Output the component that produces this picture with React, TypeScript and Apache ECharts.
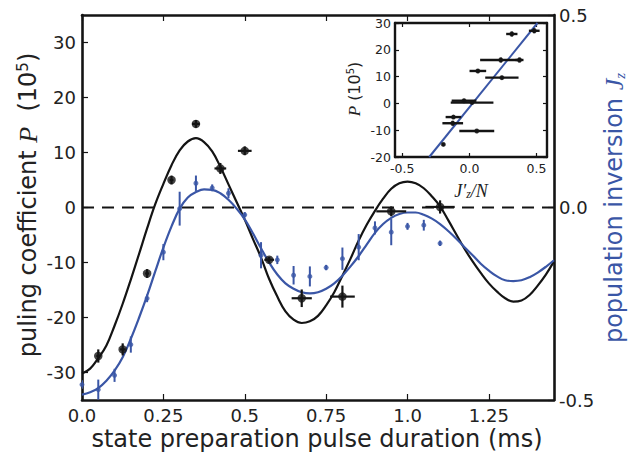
import React, { useEffect, useRef } from "react";
import * as echarts from "echarts";

// ---------- data ----------
// main axis ticks
const xTicks = [0, 0.25, 0.5, 0.75, 1.0, 1.25];
const pTicks = [-30, -20, -10, 0, 10, 20, 30];
const jzTicks = [-0.5, 0, 0.5];
const insetXTicks = [-0.5, 0, 0.5];
const insetYTicks = [-20, -10, 0, 10, 20, 30];

// black points: pulling coefficient P (left axis)
const tBlack = [0.05, 0.125, 0.2, 0.275, 0.35, 0.425, 0.5, 0.575, 0.675, 0.8, 0.95, 1.1];
const pBlack = [-27, -25.8, -12, 5, 15.2, 7.1, 10.3, -9.5, -16.5, -16.2, -0.7, 0.1];
const tBlackErr = [0.006, 0.008, 0.006, 0.006, 0.012, 0.018, 0.021, 0.015, 0.031, 0.038, 0.046, 0.045];
const pBlackErr = [1.2, 1.1, 0.8, 0.8, 0.7, 1.0, 0.8, 0.5, 1.6, 2.0, 0.9, 1.2];

// blue points: population inversion Jz (right axis)
const tBlue = [0, 0.05, 0.1, 0.15, 0.2, 0.25, 0.3, 0.35, 0.4, 0.45, 0.5, 0.55, 0.6, 0.65, 0.7, 0.75, 0.8, 0.85, 0.9, 0.95, 1.0, 1.05, 1.1];
const jzBlue = [-0.46, -0.473, -0.436, -0.356, -0.236, -0.116, -0.003, 0.063, 0.051, 0.037, -0.019, -0.124, -0.136, -0.176, -0.179, -0.156, -0.133, -0.103, -0.053, -0.064, -0.049, -0.046, -0.093];
const jzBlueErr = [0.011, 0.026, 0.017, 0.021, 0.01, 0.021, 0.044, 0.02, 0.009, 0.013, 0.007, 0.034, 0.011, 0.024, 0.026, 0.007, 0.029, 0.034, 0.017, 0.034, 0.009, 0.014, 0.007];

// fitted curves (every 0.025 ms)
const tFit = [
  0, 0.025, 0.05, 0.075, 0.1, 0.125, 0.15, 0.175, 0.2, 0.225, 0.25, 0.275, 0.3, 0.325, 0.35, 0.375, 0.4, 0.425, 0.45, 0.475,
  0.5, 0.525, 0.55, 0.575, 0.6, 0.625, 0.65, 0.675, 0.7, 0.725, 0.75, 0.775, 0.8, 0.825, 0.85, 0.875, 0.9, 0.925, 0.95, 0.975,
  1.0, 1.025, 1.05, 1.075, 1.1, 1.125, 1.15, 1.175, 1.2, 1.225, 1.25, 1.275, 1.3, 1.325, 1.35, 1.375, 1.4, 1.425, 1.45,
];
const pFitBlack = [
  -30.2, -29.3, -27.4, -25.1, -21.5, -17.5, -13.1, -8.5, -3.8, 0.6, 4.3, 7.7, 10.4, 12.0, 12.6, 11.9, 10.2, 7.4, 4.2, 1.0,
  -2.2, -5.7, -9.1, -13.0, -16.2, -18.9, -20.4, -21.0, -20.7, -19.7, -17.8, -15.4, -12.4, -9.3, -6.0, -3.1, -0.6, 1.6, 3.4, 4.4,
  4.7, 4.4, 3.5, 2.0, 0.2, -2.3, -4.9, -7.5, -9.8, -11.9, -13.8, -15.3, -16.5, -17.1, -16.9, -15.9, -14.2, -12.2, -9.8,
];
const jzFitBlue = [
  -0.486, -0.48, -0.469, -0.45, -0.424, -0.389, -0.341, -0.287, -0.229, -0.166, -0.104, -0.049, -0.003, 0.026, 0.04, 0.047, 0.046, 0.037, 0.02, -0.003,
  -0.031, -0.067, -0.106, -0.143, -0.174, -0.197, -0.211, -0.22, -0.223, -0.22, -0.211, -0.197, -0.177, -0.153, -0.126, -0.096, -0.066, -0.043, -0.027, -0.017,
  -0.013, -0.013, -0.019, -0.029, -0.043, -0.061, -0.081, -0.103, -0.124, -0.146, -0.164, -0.179, -0.189, -0.191, -0.189, -0.181, -0.169, -0.154, -0.137,
];

// inset: P vs J'z/N
const insetJ = [0.316, 0.483, 0.234, 0.373, 0.063, 0.242, -0.04, 0.02, -0.119, -0.124, 0.055, -0.194];
const insetP = [25.9, 27.1, 16.2, 16.2, 12.1, 9.6, 1.0, 0.3, -5.1, -7.4, -10.3, -15.3];
const insetJErr = [0.042, 0.04, 0.154, 0.03, 0.062, 0.124, 0.092, 0.159, 0.058, 0.077, 0.13, 0.01];
const insetPErr = [0.9, 0.9, 0.9, 0.9, 0.7, 0.7, 0.7, 0.5, 0.7, 0.9, 0.6, 0.6];
const insetFitJ = [-0.299, 0.507];
const insetFitP = [-20, 30];

const zeroLineT = [0, 1.45];
const zeroLineP = [0, 0];

// ---------- styles ----------
const BLACK = "#141414";
const BLUE = "#3a56a6";
const TXT = "#222";
const SANS = '"DejaVu Sans", sans-serif';
const SERIF = '"Liberation Serif", "DejaVu Serif", serif';

const fmtX = (v: number) => (Number.isInteger(v * 2) ? v.toFixed(1) : String(v));

function errRender(color: string, lw: number) {
  return (params: any, api: any) => {
    const x = api.value(0);
    const y = api.value(1);
    const ex = api.value(2);
    const ey = api.value(3);
    const children: any[] = [];
    if (ex > 0) {
      const l = api.coord([x - ex, y]);
      const r = api.coord([x + ex, y]);
      children.push({ type: "line", shape: { x1: l[0], y1: l[1], x2: r[0], y2: r[1] }, style: { stroke: color, lineWidth: lw } });
    }
    if (ey > 0) {
      const b = api.coord([x, y - ey]);
      const t = api.coord([x, y + ey]);
      children.push({ type: "line", shape: { x1: b[0], y1: b[1], x2: t[0], y2: t[1] }, style: { stroke: color, lineWidth: lw } });
    }
    return { type: "group", children };
  };
}

function valueAxis(opts: any) {
  const { ticks, showLabel, fontSize, margin, tickLen, lineWidth, formatter, ...rest } = opts;
  return {
    type: "value",
    ...rest,
    axisLine: { show: true, onZero: false, lineStyle: { color: BLACK, width: lineWidth } },
    axisTick: { show: true, inside: true, length: tickLen, customValues: ticks, lineStyle: { color: BLACK, width: 1.2 } },
    axisLabel: {
      show: showLabel,
      customValues: ticks,
      formatter,
      fontSize,
      fontFamily: SANS,
      color: TXT,
      margin,
    },
    splitLine: { show: false },
  };
}

export default function App() {
  const ref = useRef<HTMLDivElement>(null);

  useEffect(() => {
    if (!ref.current) return;
    const chart = echarts.init(ref.current, undefined, { renderer: "svg" });

    const blackPts = tBlack.map((t, i) => [t, pBlack[i]]);
    const blackErr = tBlack.map((t, i) => [t, pBlack[i], tBlackErr[i], pBlackErr[i]]);
    const bluePts = tBlue.map((t, i) => [t, jzBlue[i]]);
    const blueErr = tBlue.map((t, i) => [t, jzBlue[i], 0, jzBlueErr[i]]);
    const fitBlack = tFit.map((t, i) => [t, pFitBlack[i]]);
    const fitBlue = tFit.map((t, i) => [t, jzFitBlue[i]]);
    const insetPts = insetJ.map((j, i) => [j, insetP[i]]);
    const insetErr = insetJ.map((j, i) => [j, insetP[i], insetJErr[i], insetPErr[i]]);
    const insetFit = insetFitJ.map((j, i) => [j, insetFitP[i]]);
    const zero = zeroLineT.map((t, i) => [t, zeroLineP[i]]);

    const option: any = {
      animation: false,
      grid: [
        { left: 82, top: 15, right: 82, bottom: 53 },
        { left: 395, top: 23, right: 89, bottom: 296, show: true, backgroundColor: "#fff", borderWidth: 0 },
      ],
      xAxis: [
        valueAxis({ gridIndex: 0, min: 0, max: 1.45, position: "bottom", ticks: xTicks, showLabel: true, fontSize: 18, margin: 6, tickLen: 6, lineWidth: 2.6, formatter: fmtX }),
        valueAxis({ gridIndex: 0, min: 0, max: 1.45, position: "top", ticks: xTicks, showLabel: false, fontSize: 18, margin: 6, tickLen: 6, lineWidth: 2.6 }),
        valueAxis({ gridIndex: 1, min: -0.554, max: 0.578, position: "bottom", ticks: insetXTicks, showLabel: true, fontSize: 12.5, margin: 5, tickLen: 4, lineWidth: 2.4, formatter: (v: number) => v.toFixed(1) }),
        valueAxis({ gridIndex: 1, min: -0.554, max: 0.578, position: "top", ticks: insetXTicks, showLabel: false, fontSize: 12, margin: 5, tickLen: 4, lineWidth: 2.4 }),
      ],
      yAxis: [
        valueAxis({ gridIndex: 0, min: -35, max: 35, position: "left", ticks: pTicks, showLabel: true, fontSize: 18, margin: 6, tickLen: 6, lineWidth: 2.6, formatter: (v: number) => String(v) }),
        valueAxis({ gridIndex: 0, min: -0.5, max: 0.5, position: "right", ticks: jzTicks, showLabel: true, fontSize: 18, margin: 5, tickLen: 6, lineWidth: 2.6, formatter: (v: number) => v.toFixed(1) }),
        valueAxis({ gridIndex: 1, min: -20, max: 30, position: "left", ticks: insetYTicks, showLabel: true, fontSize: 12.5, margin: 4, tickLen: 4, lineWidth: 2.4, formatter: (v: number) => String(v) }),
        valueAxis({ gridIndex: 1, min: -20, max: 30, position: "right", ticks: insetYTicks, showLabel: false, fontSize: 12, margin: 4, tickLen: 4, lineWidth: 2.4 }),
      ],
      series: [
        {
          type: "line", xAxisIndex: 0, yAxisIndex: 0, data: zero, symbol: "none", silent: true,
          lineStyle: { color: BLACK, width: 2.2, type: [12, 8] }, z: 1,
        },
        {
          type: "line", xAxisIndex: 0, yAxisIndex: 0, data: fitBlack, symbol: "none", smooth: 0.4,
          lineStyle: { color: BLACK, width: 2.2 }, z: 2,
        },
        {
          type: "line", xAxisIndex: 0, yAxisIndex: 1, data: fitBlue, symbol: "none", smooth: 0.4,
          lineStyle: { color: BLUE, width: 2.2 }, z: 3,
        },
        {
          type: "custom", xAxisIndex: 0, yAxisIndex: 1, data: blueErr, renderItem: errRender(BLUE, 2),
          encode: { x: 0, y: 1 }, clip: true, z: 4,
        },
        {
          type: "scatter", xAxisIndex: 0, yAxisIndex: 1, data: bluePts, symbol: "circle", symbolSize: 5,
          itemStyle: { color: BLUE }, z: 5, clip: true,
        },
        {
          type: "custom", xAxisIndex: 0, yAxisIndex: 0, data: blackErr, renderItem: errRender(BLACK, 2.2),
          encode: { x: 0, y: 1 }, clip: true, z: 6,
        },
        {
          type: "scatter", xAxisIndex: 0, yAxisIndex: 0, data: blackPts, symbol: "circle", symbolSize: 8.5,
          itemStyle: { color: BLACK }, z: 7,
        },
        {
          type: "line", xAxisIndex: 2, yAxisIndex: 2, data: insetFit, symbol: "none",
          lineStyle: { color: BLUE, width: 2 }, z: 8,
        },
        {
          type: "custom", xAxisIndex: 2, yAxisIndex: 2, data: insetErr, renderItem: errRender(BLACK, 2.4),
          encode: { x: 0, y: 1 }, clip: true, z: 9,
        },
        {
          type: "scatter", xAxisIndex: 2, yAxisIndex: 2, data: insetPts, symbol: "circle", symbolSize: 5,
          itemStyle: { color: BLACK }, z: 10,
        },
      ],
      graphic: [
        {
          type: "text", x: 317, y: 439, z: 100,
          style: {
            text: "state preparation pulse duration (ms)",
            fontSize: 24, fontFamily: SANS, fill: TXT, align: "center", verticalAlign: "middle",
          },
        },
        {
          type: "text", x: 28, y: 205, rotation: Math.PI / 2, z: 100,
          style: {
            text: "{a|puling coefficient }{i|P}{a|  (10}{s|5}{a|)}",
            align: "center", verticalAlign: "middle",
            rich: {
              a: { fontSize: 24, fontFamily: SANS, fill: TXT },
              i: { fontSize: 26, fontFamily: SERIF, fontStyle: "italic", fill: TXT },
              s: { fontSize: 15, fontFamily: SANS, fill: TXT, verticalAlign: "top", lineHeight: 16 },
            },
          },
        },
        {
          type: "text", x: 614, y: 208, rotation: Math.PI / 2, z: 100,
          style: {
            text: "{a|population inversion }{i|J}{z|z}",
            align: "center", verticalAlign: "middle",
            rich: {
              a: { fontSize: 24, fontFamily: SANS, fill: BLUE },
              i: { fontSize: 26, fontFamily: SERIF, fontStyle: "italic", fill: BLUE },
              z: { fontSize: 15, fontFamily: SERIF, fontStyle: "italic", fill: BLUE, verticalAlign: "bottom", lineHeight: 14 },
            },
          },
        },
        {
          type: "text", x: 354, y: 89, rotation: Math.PI / 2, z: 100,
          style: {
            text: "{i|P}{a| (10}{s|5}{a|)}",
            align: "center", verticalAlign: "middle",
            rich: {
              a: { fontSize: 16, fontFamily: SANS, fill: TXT },
              i: { fontSize: 17, fontFamily: SERIF, fontStyle: "italic", fill: TXT },
              s: { fontSize: 10, fontFamily: SANS, fill: TXT, verticalAlign: "top", lineHeight: 10 },
            },
          },
        },
        {
          type: "text", x: 471, y: 191, z: 100,
          style: {
            text: "{i|J′}{z|z}{i|/N}",
            align: "center", verticalAlign: "middle",
            rich: {
              i: { fontSize: 18, fontFamily: SERIF, fontStyle: "italic", fill: TXT },
              z: { fontSize: 12, fontFamily: SERIF, fontStyle: "italic", fill: TXT, verticalAlign: "bottom", lineHeight: 10 },
            },
          },
        },
      ],
    };

    chart.setOption(option);
    return () => chart.dispose();
  }, []);

  return (
    <div
      ref={ref}
      style={{ position: "fixed", left: 0, top: 0, width: 636, height: 453, background: "#fff" }}
    />
  );
}
